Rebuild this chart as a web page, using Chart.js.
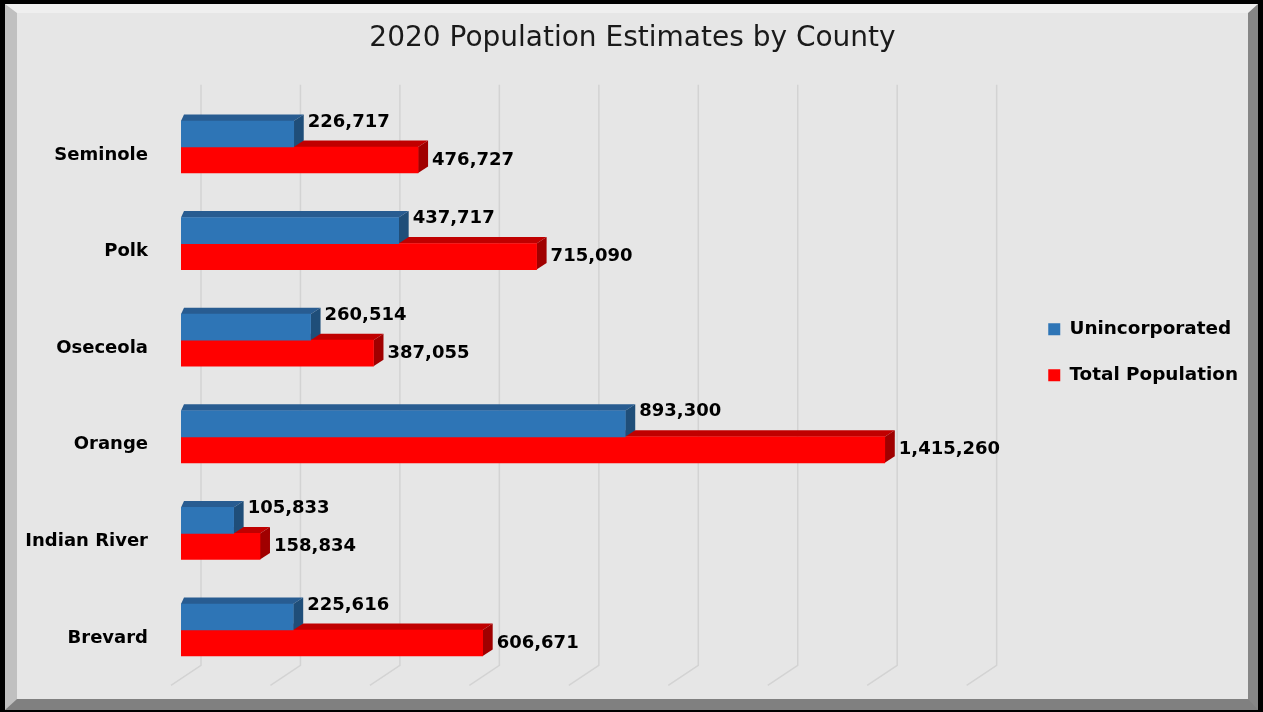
<!DOCTYPE html>
<html>
<head>
<meta charset="utf-8">
<title>2020 Population Estimates by County</title>
<script src="https://cdn.jsdelivr.net/npm/chart.js@4.4.1/dist/chart.umd.min.js"></script>
<style>
    html, body { margin: 0; padding: 0; background: #000; }
    .frame {
        position: absolute; left: 5px; top: 4px;
        width: 1231px; height: 686px;
        border-style: solid;
        border-width: 9px 10px 11px 12px;
        border-color: #efefef #868686 #808080 #c0c0c0;
        background: #e6e6e6;
    }
    canvas { display: block; }
</style>
</head>
<body>
<div class="frame"><canvas id="popChart" width="1231" height="686"></canvas></div>
<script>
// County data
const counties = ['Seminole', 'Polk', 'Oseceola', 'Orange', 'Indian River', 'Brevard'];
const unincorporated = [226717, 437717, 260514, 893300, 105833, 225616];
const totalPopulation = [476727, 715090, 387055, 1415260, 158834, 606671];
const gridValues = [0, 200000, 400000, 600000, 800000, 1000000, 1200000, 1400000, 1600000];

// Fake 3D depth of the bars
const DX = 10;
const DX_LEFT = 3;
const DY = 6.5;
const faceColors = [
    { top: '#285c91', side: '#1f4e79' },
    { top: '#c00000', side: '#a00000' },
];

const labelFont = '"DejaVu Sans", sans-serif';

// Back-wall grid with slanted floor lines, plus top and side faces of each bar
const bars3d = {
    id: 'bars3d',
    beforeDatasetsDraw(chart) {
        const { ctx, chartArea, scales: { x } } = chart;
        ctx.save();
        ctx.strokeStyle = '#d3d3d3';
        ctx.lineWidth = 1.5;
        gridValues.forEach((v) => {
            const px = x.getPixelForValue(v);
            ctx.beginPath();
            ctx.moveTo(px + 20, chartArea.top - 14);
            ctx.lineTo(px + 20, chartArea.bottom - 13);
            ctx.lineTo(px - 10, chartArea.bottom + 7);
            ctx.stroke();
        });

        [1, 0].forEach((i) => {
            const c = faceColors[i];
            chart.getDatasetMeta(i).data.forEach((bar) => {
                const { x: x1, y, base: x0, height } = bar.getProps(['x', 'y', 'base', 'height'], true);
                const yT = y - height / 2;
                const yB = y + height / 2;
                ctx.fillStyle = c.top;
                ctx.beginPath();
                ctx.moveTo(x0, yT);
                ctx.lineTo(x1, yT);
                ctx.lineTo(x1 + DX, yT - DY);
                ctx.lineTo(x0 + DX_LEFT, yT - DY);
                ctx.closePath();
                ctx.fill();
                ctx.fillStyle = c.side;
                ctx.beginPath();
                ctx.moveTo(x1, yT);
                ctx.lineTo(x1 + DX, yT - DY);
                ctx.lineTo(x1 + DX, yB - DY);
                ctx.lineTo(x1, yB);
                ctx.closePath();
                ctx.fill();
            });
        });
        ctx.restore();
    },
    afterDatasetsDraw(chart) {
        const { ctx } = chart;
        ctx.save();
        ctx.font = 'bold 18px ' + labelFont;
        ctx.fillStyle = '#000';
        ctx.textAlign = 'left';
        ctx.textBaseline = 'middle';
        chart.data.datasets.forEach((ds, i) => {
            const lift = i === 0 ? 12 : 0;
            chart.getDatasetMeta(i).data.forEach((bar, j) => {
                ctx.fillText(ds.data[j].toLocaleString('en-US'), bar.x + DX + 4, bar.y - lift);
            });
        });
        ctx.restore();
    },
};

new Chart(document.getElementById('popChart'), {
    type: 'bar',
    data: {
        labels: counties,
        datasets: [
            {
                label: 'Unincorporated',
                data: unincorporated,
                backgroundColor: '#2e75b6',
                borderWidth: 0,
                barThickness: 26,
            },
            {
                label: 'Total Population',
                data: totalPopulation,
                backgroundColor: '#ff0000',
                borderWidth: 0,
                barThickness: 26,
            },
        ],
    },
    options: {
        indexAxis: 'y',
        responsive: false,
        animation: false,
        layout: {
            padding: { top: 13, bottom: 20.7, left: 0, right: 0 },
        },
        plugins: {
            title: {
                display: true,
                text: '2020 Population Estimates by County',
                color: '#1a1a1a',
                font: { family: labelFont, size: 28, weight: 'normal', lineHeight: 0.8 },
                padding: { top: 2, bottom: 48.3 },
            },
            legend: {
                position: 'right',
                maxWidth: 300,
                labels: {
                    boxWidth: 12,
                    boxHeight: 12,
                    padding: 27.6,
                    color: '#000',
                    font: { family: labelFont, size: 18.4, weight: 'bold' },
                },
            },
            tooltip: { enabled: false },
        },
        scales: {
            x: {
                type: 'linear',
                min: 0,
                max: 1600000,
                display: false,
            },
            y: {
                grid: { display: false, drawTicks: true, tickLength: 33 },
                border: { display: false },
                ticks: {
                    padding: 0,
                    labelOffset: 8,
                    color: '#000',
                    font: { family: labelFont, size: 18, weight: 'bold' },
                },
                afterFit(scale) {
                    scale.width = 164;
                },
            },
            // empty axis that only keeps the legend away from the bars
            y2: {
                type: 'linear',
                position: 'right',
                grid: { display: false, drawTicks: false },
                border: { display: false },
                ticks: { display: false },
                afterFit(scale) {
                    scale.width = 44;
                },
            },
        },
    },
    plugins: [bars3d],
});
</script>
</body>
</html>
